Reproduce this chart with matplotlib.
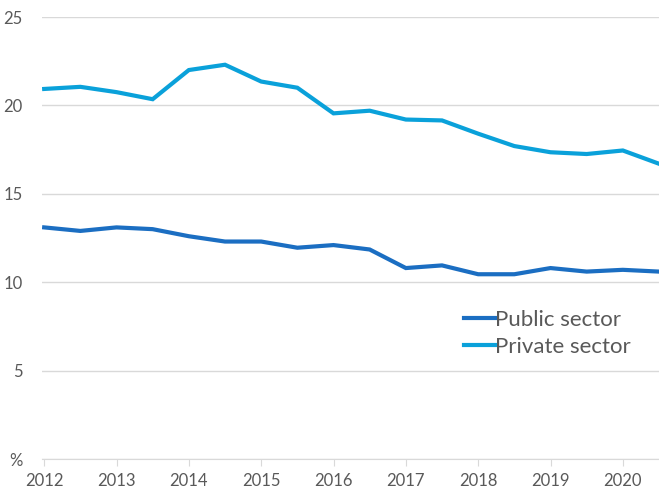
import matplotlib.pyplot as plt

years = [2012 + 0.5 * i for i in range(18)]
public = [13.1, 12.9, 13.1, 13.0, 12.6, 12.3, 12.3, 11.95, 12.1, 11.85,
          10.8, 10.95, 10.45, 10.45, 10.8, 10.6, 10.7, 10.6]
private = [20.93, 21.05, 20.75, 20.35, 22.0, 22.3, 21.35, 21.0, 19.55, 19.7,
           19.2, 19.15, 18.4, 17.7, 17.35, 17.25, 17.45, 16.7]
xticks = list(range(2012, 2021))
yticks = [0, 5, 10, 15, 20, 25]
ylabels = ['%', '5', '10', '15', '20', '25']

plt.rcParams['font.family'] = ['Lato', 'DejaVu Sans']
grey = '#595959'

fig = plt.figure(figsize=(6.59, 4.93), dpi=100)
ax = fig.add_axes([42 / 659, 1 - 459 / 493, 1 - 42 / 659, (459 - 17) / 493])

ax.plot(years, public, color='#1b6ec2', lw=3, label='Public sector', solid_joinstyle='miter')
ax.plot(years, private, color='#0aa1da', lw=3, label='Private sector', solid_joinstyle='miter')

ax.set_xlim(2011.97, 2020.5)
ax.set_ylim(0, 25)
ax.set_yticks(yticks)
ax.set_yticklabels(ylabels)
ax.set_xticks(xticks)
ax.grid(axis='y', color='#d9d9d9', lw=1)
ax.set_axisbelow(True)
for s in ['top', 'right', 'left']:
    ax.spines[s].set_visible(False)
ax.spines['bottom'].set_color('#d9d9d9')
ax.tick_params(axis='y', length=0, pad=14, labelsize=12, labelcolor=grey)
ax.tick_params(axis='x', length=5, color='#d9d9d9', pad=5, labelsize=12, labelcolor=grey)

leg = ax.legend(loc='upper left', bbox_to_anchor=(0.67, 0.357), frameon=False,
                fontsize=16, handlelength=1.4, handletextpad=0.0,
                labelspacing=0.3, borderaxespad=0)
for t in leg.get_texts():
    t.set_color(grey)

fig.savefig('out.png', dpi=100)
